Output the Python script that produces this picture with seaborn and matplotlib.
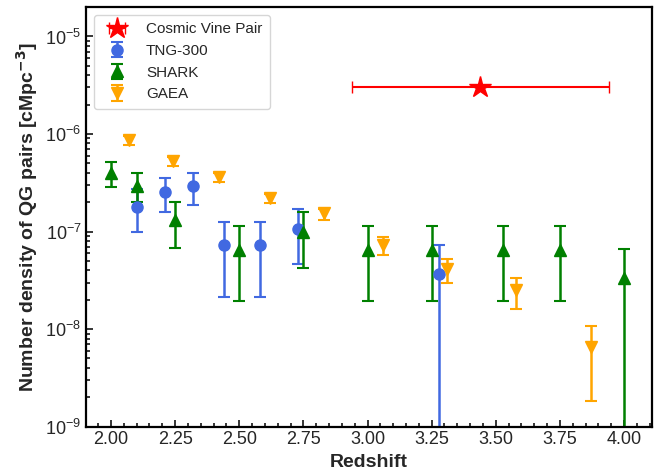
import numpy as np
import matplotlib
matplotlib.use("Agg")
import matplotlib.pyplot as plt
import seaborn as sns
from matplotlib.ticker import MultipleLocator, LogLocator

# --- Data ---
cv_z = [3.44]
cv_n = [3.0e-6]
cv_zerr = [0.5]

tng_z = [2.10, 2.21, 2.32, 2.44, 2.58, 2.73, 3.28]
tng_n = [1.8e-7, 2.55e-7, 2.9e-7, 7.3e-8, 7.3e-8, 1.07e-7, 3.65e-8]
tng_lo = [1.0e-7, 1.6e-7, 1.88e-7, 2.14e-8, 2.14e-8, 4.6e-8, 1e-12]
tng_hi = [2.7e-7, 3.5e-7, 3.95e-7, 1.25e-7, 1.25e-7, 1.7e-7, 7.3e-8]

shark_z = [2.00, 2.10, 2.25, 2.50, 2.75, 3.00, 3.25, 3.53, 3.75, 4.00]
shark_n = [3.95e-7, 2.9e-7, 1.32e-7, 6.5e-8, 9.8e-8, 6.5e-8, 6.5e-8, 6.5e-8, 6.5e-8, 3.3e-8]
shark_lo = [2.85e-7, 2.0e-7, 6.7e-8, 1.96e-8, 4.27e-8, 1.96e-8, 1.96e-8, 1.96e-8, 1.96e-8, 1e-12]
shark_hi = [5.15e-7, 4.0e-7, 2.0e-7, 1.14e-7, 1.58e-7, 1.14e-7, 1.14e-7, 1.14e-7, 1.14e-7, 6.65e-8]

gaea_z = [2.07, 2.24, 2.42, 2.62, 2.83, 3.06, 3.31, 3.58, 3.87]
gaea_n = [8.7e-7, 5.3e-7, 3.65e-7, 2.23e-7, 1.55e-7, 7.3e-8, 4.1e-8, 2.52e-8, 6.5e-9]
gaea_lo = [7.8e-7, 4.75e-7, 3.25e-7, 1.95e-7, 1.32e-7, 5.8e-8, 2.96e-8, 1.62e-8, 1.83e-9]
gaea_hi = [9.6e-7, 5.8e-7, 4.0e-7, 2.45e-7, 1.7e-7, 8.8e-8, 5.2e-8, 3.37e-8, 1.07e-8]


def asym(vals, lo, hi):
    vals = np.array(vals)
    return [vals - np.array(lo), np.array(hi) - vals]


sns.set_style("ticks")
plt.rcParams["font.family"] = ["Liberation Sans", "DejaVu Sans"]
plt.rcParams["mathtext.fontset"] = "dejavusans"

fig, ax = plt.subplots(figsize=(6.64, 4.74), dpi=100)
fig.subplots_adjust(left=0.13, right=0.982, bottom=0.1, top=0.985)

ax.errorbar(cv_z, cv_n, xerr=cv_zerr, fmt="*", color="red", ms=16,
            elinewidth=1.5, capsize=4, label="Cosmic Vine Pair", zorder=5)
ax.errorbar(tng_z, tng_n, yerr=asym(tng_n, tng_lo, tng_hi), fmt="o", color="royalblue",
            ms=8, elinewidth=1.8, capsize=4, capthick=1.5, label="TNG-300")
ax.errorbar(shark_z, shark_n, yerr=asym(shark_n, shark_lo, shark_hi), fmt="^", color="green",
            ms=8, elinewidth=1.8, capsize=4, capthick=1.5, label="SHARK")
ax.errorbar(gaea_z, gaea_n, yerr=asym(gaea_n, gaea_lo, gaea_hi), fmt="v", color="orange",
            ms=8, elinewidth=1.8, capsize=4, capthick=1.5, label="GAEA")

ax.set_yscale("log")
ax.set_ylim(1e-9, 2e-5)
ax.set_xlim(1.904, 4.109)
ax.xaxis.set_major_locator(MultipleLocator(0.25))
ax.xaxis.set_minor_locator(MultipleLocator(0.05))
ax.yaxis.set_minor_locator(LogLocator(base=10, subs=np.arange(2, 10), numticks=20))

ax.tick_params(which="both", direction="in", labelsize=13, width=1.3)
ax.tick_params(which="major", length=5)
ax.tick_params(which="minor", length=3)
for s in ax.spines.values():
    s.set_linewidth(1.6)
    s.set_color("black")

ax.set_xlabel("Redshift", fontsize=14, fontweight="bold", labelpad=4)
ax.set_ylabel(r"Number density of QG pairs [cMpc$^{\mathbf{-3}}$]", fontsize=14,
              fontweight="bold", labelpad=4)

ax.legend(loc="upper left", fontsize=11, frameon=True, handletextpad=0.9,
          borderpad=0.5, labelspacing=0.5)

plt.savefig("out.png", dpi=100)
plt.close()
